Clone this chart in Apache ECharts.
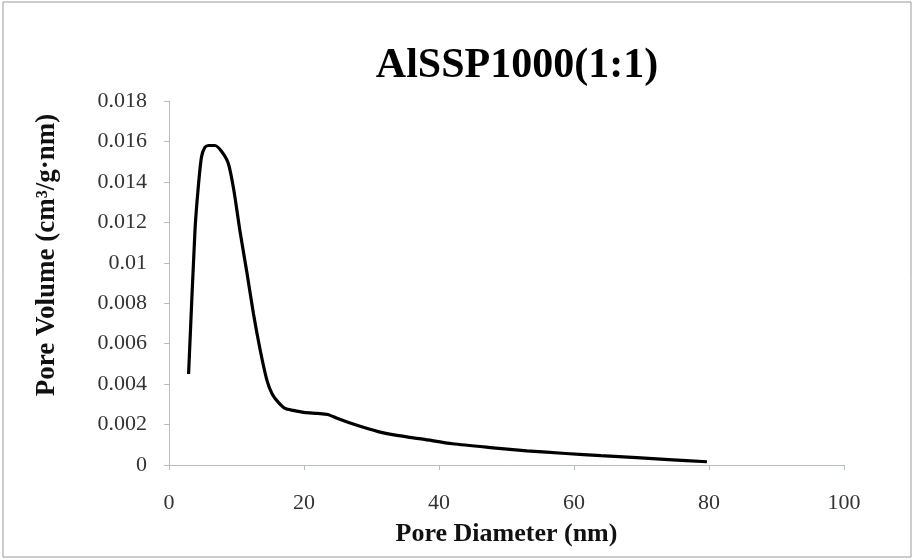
<!DOCTYPE html>
<html>
<head>
<meta charset="utf-8">
<script src="https://cdn.jsdelivr.net/npm/echarts@6/dist/echarts.min.js"></script>
<style>html,body{margin:0;padding:0;background:#fff}#c{width:914px;height:560px}</style>
</head>
<body>
<div id="c"></div>
<script>
const titleText = 'AlSSP1000(1:1)';
const xName = 'Pore Diameter (nm)';
const yName = 'Pore Volume (cm\u00B3/g\u00B7nm)';
const diameter = [2.9, 3.85, 4.3, 4.8, 5.3, 5.9, 6.8, 7.8, 8.8, 9.6, 10.5, 11.5, 12.5, 13.5, 14.5, 15.3, 16.2, 17.2, 18.4, 20, 22, 23.5, 25, 27.5, 31, 34, 37.6, 42, 48, 53, 58.8, 64, 69.3, 74, 79.7];
const volume = [0.0045, 0.0116, 0.0136, 0.0152, 0.0157, 0.0158, 0.0158, 0.0155, 0.0149, 0.0136, 0.0116, 0.0096, 0.0075, 0.0057, 0.0042, 0.0035, 0.0031, 0.0028, 0.0027, 0.0026, 0.00255, 0.0025, 0.0023, 0.002, 0.00165, 0.00145, 0.00128, 0.00105, 0.00085, 0.0007, 0.00057, 0.00046, 0.00036, 0.00027, 0.00016];
const yTickLabels = {0:'0',0.002:'0.002',0.004:'0.004',0.006:'0.006',0.008:'0.008',0.01:'0.01',0.012:'0.012',0.014:'0.014',0.016:'0.016',0.018:'0.018'};

const chart = echarts.init(document.getElementById('c'), null, {renderer:'canvas'});
const serif = '"Liberation Serif", "DejaVu Serif", serif';
const pts = diameter.map((d, i) => [d, volume[i]]);
chart.setOption({
  backgroundColor: '#fff',
  animation: false,
  graphic: [{
    type: 'rect', shape: {x: 3, y: 2, width: 908, height: 555},
    style: {fill: 'none', stroke: '#9a9a9a', lineWidth: 1}, silent: true
  }],
  title: {
    text: titleText, left: 512, top: 40, textAlign: 'center',
    textStyle: {fontFamily: serif, fontWeight: 'bold', fontSize: 42, color: '#000'}
  },
  grid: {left: 169, right: 70, top: 101, bottom: 95, containLabel: false},
  xAxis: {
    type: 'value', min: 0, max: 100, interval: 20,
    name: xName, nameLocation: 'middle', nameGap: 56,
    nameTextStyle: {fontFamily: serif, fontWeight: 'bold', fontSize: 26, color: '#111'},
    axisLine: {show: true, lineStyle: {color: '#b8bcc4', width: 1}},
    axisTick: {show: true, length: 5, lineStyle: {color: '#b8bcc4'}},
    axisLabel: {fontFamily: serif, fontSize: 22, color: '#333', margin: 27},
    splitLine: {show: false}
  },
  yAxis: {
    type: 'value', min: 0, max: 0.018, interval: 0.002,
    name: yName, nameLocation: 'middle', nameGap: 108,
    nameTextStyle: {fontFamily: serif, fontWeight: 'bold', fontSize: 27, color: '#111', padding: [0, 0, 0, 56]},
    axisLine: {show: true, lineStyle: {color: '#b8bcc4', width: 1}},
    axisTick: {show: true, length: 5, lineStyle: {color: '#b8bcc4'}},
    axisLabel: {fontFamily: serif, fontSize: 22, color: '#333', margin: 22,
      formatter: v => { const k = Math.round(v * 1000) / 1000; return yTickLabels[k] !== undefined ? yTickLabels[k] : String(k); }},
    splitLine: {show: false}
  },
  series: [{
    type: 'line', data: pts, smooth: 0.25, showSymbol: false,
    lineStyle: {color: '#000', width: 3.2}
  }]
});
</script>
</body>
</html>
